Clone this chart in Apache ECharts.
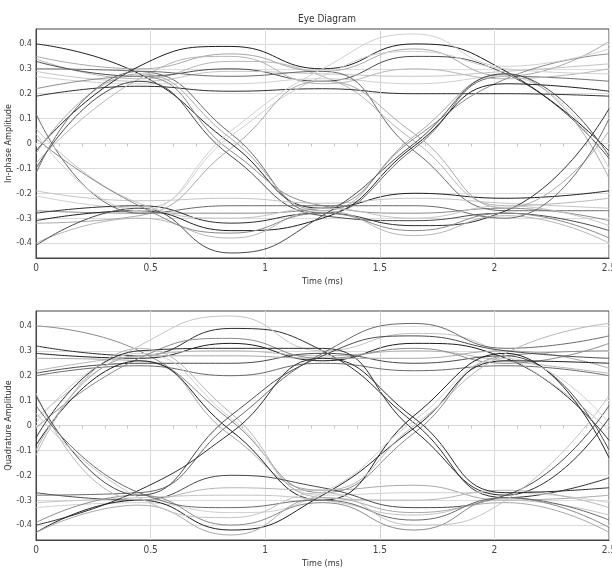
<!DOCTYPE html>
<html>
<head>
<meta charset="utf-8">
<script src="https://cdn.jsdelivr.net/npm/echarts@6/dist/echarts.min.js"></script>
<style>
html,body{margin:0;padding:0;background:#fff}
#chart{width:612px;height:568px}
</style>
</head>
<body>
<div id="chart"></div>
<script>
var timeKnots = [0, 0.45, 0.85, 1.25, 1.65, 2.05, 2.5];
var timeTicks = [0, 0.5, 1, 1.5, 2, 2.5];
var amplitudeTicks = [-0.4, -0.3, -0.2, -0.1, 0, 0.1, 0.2, 0.3, 0.4];

// In-phase traces, one row per sweep, values at timeKnots
var inPhaseTraces = [
    [0.40, 0.28, 0.00, -0.26, -0.20, -0.22, -0.19],
    [0.35, 0.30, 0.36, 0.29, 0.38, 0.27, 0.41],
    [0.34, 0.26, 0.33, 0.27, 0.01, -0.25, -0.22],
    [0.33, 0.27, 0.30, 0.25, 0.35, 0.28, -0.06],
    [0.30, 0.29, 0.04, -0.28, -0.02, 0.27, 0.25],
    [0.29, 0.25, 0.29, 0.28, 0.27, 0.29, 0.32],
    [0.27, 0.24, 0.24, 0.26, 0.24, 0.27, -0.10],
    [0.22, 0.27, -0.03, -0.25, -0.28, -0.26, -0.31],
    [0.19, 0.23, 0.21, 0.22, 0.20, 0.20, 0.19],
    [-0.03, 0.31, 0.39, 0.30, 0.40, 0.29, -0.03],
    [-0.04, 0.28, 0.02, -0.27, 0.03, 0.28, -0.14],
    [-0.08, 0.26, 0.35, 0.24, 0.30, 0.26, 0.30],
    [-0.10, 0.25, -0.05, -0.29, -0.31, -0.28, -0.35],
    [-0.12, 0.29, 0.27, 0.29, -0.03, -0.27, -0.27],
    [-0.19, -0.23, -0.22, -0.24, -0.22, -0.24, -0.26],
    [-0.21, -0.26, 0.03, 0.27, 0.37, 0.30, 0.28],
    [-0.27, -0.28, -0.28, -0.26, 0.02, 0.26, 0.36],
    [-0.28, -0.25, -0.32, -0.28, -0.33, -0.27, 0.14],
    [-0.31, -0.27, -0.35, -0.30, -0.01, 0.24, 0.21],
    [-0.32, -0.29, -0.02, 0.25, 0.04, -0.26, 0.05],
    [-0.40, -0.30, -0.38, -0.27, -0.37, -0.29, -0.40],
    [-0.41, -0.26, -0.44, -0.29, 0.00, 0.28, -0.05],
    [0.12, -0.28, -0.25, -0.25, -0.25, -0.30, 0.10],
    [0.06, -0.24, -0.30, -0.26, -0.30, -0.25, -0.33],
    [0.04, -0.27, 0.05, 0.30, 0.44, 0.31, 0.38],
    [0.02, -0.25, -0.36, -0.28, -0.35, -0.28, -0.38]
];

// Quadrature traces
var quadratureTraces = [
    [0.40, 0.30, 0.02, -0.27, -0.03, 0.28, 0.30],
    [0.32, 0.28, 0.39, 0.30, 0.01, -0.29, -0.21],
    [0.29, 0.27, 0.33, 0.26, 0.33, 0.27, -0.06],
    [0.27, 0.26, -0.04, -0.26, -0.24, -0.30, -0.28],
    [0.22, 0.28, 0.30, 0.28, 0.30, 0.26, 0.21],
    [0.21, 0.25, 0.25, 0.29, 0.25, 0.28, -0.10],
    [0.20, 0.24, 0.20, 0.25, 0.22, 0.24, 0.20],
    [0.03, 0.32, 0.44, 0.30, 0.37, 0.28, -0.02],
    [0.01, 0.29, 0.03, -0.28, -0.27, -0.27, -0.31],
    [-0.01, 0.27, 0.35, 0.27, 0.31, 0.25, 0.33],
    [-0.05, 0.30, 0.31, 0.31, -0.02, -0.28, 0.03],
    [-0.08, 0.26, -0.02, -0.30, 0.04, 0.29, -0.13],
    [-0.10, 0.28, 0.28, 0.27, 0.27, 0.30, 0.23],
    [-0.12, 0.31, 0.05, -0.29, -0.30, -0.26, -0.33],
    [-0.27, -0.30, -0.20, -0.25, -0.33, -0.28, 0.08],
    [-0.28, -0.27, 0.01, 0.29, 0.41, 0.31, 0.36],
    [-0.31, -0.29, -0.28, -0.30, -0.36, -0.30, -0.36],
    [-0.33, -0.31, -0.35, -0.27, 0.02, 0.27, 0.01],
    [-0.39, -0.28, -0.40, -0.31, -0.42, -0.29, -0.41],
    [-0.40, -0.26, -0.03, 0.27, 0.03, -0.27, -0.25],
    [-0.43, -0.30, -0.42, -0.28, -0.01, 0.26, 0.25],
    [-0.43, -0.32, -0.44, -0.29, -0.35, -0.31, -0.43],
    [0.13, -0.30, -0.25, -0.26, 0.00, 0.29, 0.41],
    [0.12, -0.28, 0.04, 0.28, 0.36, 0.30, 0.27],
    [0.08, -0.27, -0.33, -0.30, -0.38, -0.29, -0.38],
    [0.05, -0.29, -0.37, -0.27, -0.40, -0.30, 0.12]
];

var traceGreys = ['#1e1e1e', '#8a8a8a', '#c4c4c4', '#4a4a4a', '#a8a8a8', '#2e2e2e', '#d0d0d0', '#6a6a6a', '#b6b6b6'];
var font = "'Liberation Sans Narrow', 'DejaVu Sans Condensed', 'Liberation Sans', sans-serif";

var chart = echarts.init(document.getElementById('chart'));

function traceSeries(traces, g) {
    return traces.map(function (trace, i) {
        var s = {
            type: 'line',
            xAxisIndex: g,
            yAxisIndex: g,
            smooth: 0.5,
            symbol: 'none',
            silent: true,
            animation: false,
            lineStyle: { width: 1, color: traceGreys[(i * 4 + g) % traceGreys.length] },
            data: timeKnots.map(function (t, k) { return [t, trace[k]]; })
        };
        if (i === 0) {
            s.markLine = {
                silent: true,
                symbol: 'none',
                label: { show: false },
                lineStyle: { color: '#c8c8c8', type: [2, 2], width: 1 },
                data: [{ xAxis: 1.5 }]
            };
        }
        return s;
    });
}

function mainX(g) {
    return {
        gridIndex: g, type: 'value', min: 0, max: 2.5, interval: 0.5,
        name: 'Time (ms)', nameLocation: 'middle', nameGap: 19, nameMoveOverlap: false,
        nameTextStyle: { fontFamily: font, fontSize: 9, color: '#333' },
        axisLine: { onZero: false, lineStyle: { color: '#444' } },
        axisTick: { show: false },
        axisLabel: { fontFamily: font, fontSize: 10, color: '#444', margin: 5,
            formatter: function (v) { return timeTicks.indexOf(v) >= 0 ? String(v) : ''; } },
        splitLine: { show: true, lineStyle: { color: '#dcdcdc' } }
    };
}

function zeroX(g) {
    return {
        gridIndex: g, type: 'value', min: 0, max: 2.5, interval: 0.1, position: 'top',
        axisLine: { onZero: true, lineStyle: { color: '#d6d6d6' } },
        axisTick: { show: true, inside: true, length: 3, lineStyle: { color: '#c8c8c8' } },
        axisLabel: { show: false },
        splitLine: { show: false }
    };
}

function mainY(g, name) {
    return {
        gridIndex: g, type: 'value', min: -0.46, max: 0.46,
        name: name, nameLocation: 'middle', nameGap: 23, nameMoveOverlap: false,
        nameTextStyle: { fontFamily: font, fontSize: 9, color: '#333' },
        axisLine: { onZero: false, lineStyle: { color: '#444' } },
        axisTick: { show: false, customValues: amplitudeTicks },
        axisLabel: { fontFamily: font, fontSize: 9, color: '#444', margin: 4,
            customValues: amplitudeTicks,
            formatter: function (v) { return String(Math.round(v * 10) / 10); } },
        splitLine: { show: true, lineStyle: { color: '#dcdcdc' } }
    };
}

var option = {
    backgroundColor: '#fff',
    animation: false,
    title: {
        text: 'Eye Diagram', left: 322, top: 9, textAlign: 'center',
        textStyle: { fontFamily: font, fontSize: 10, fontWeight: 'normal', color: '#333' }
    },
    grid: [
        { left: 36, top: 29, width: 573, height: 229, show: true, borderColor: '#444', borderWidth: 1,
          outerBoundsMode: 'none', containLabel: false },
        { left: 36, top: 311, width: 573, height: 229, show: true, borderColor: '#444', borderWidth: 1,
          outerBoundsMode: 'none', containLabel: false }
    ],
    xAxis: [mainX(0), mainX(1), zeroX(0), zeroX(1)],
    yAxis: [mainY(0, 'In-phase Amplitude'), mainY(1, 'Quadrature Amplitude')],
    series: traceSeries(inPhaseTraces, 0).concat(traceSeries(quadratureTraces, 1))
};

chart.setOption(option);
</script>
</body>
</html>
